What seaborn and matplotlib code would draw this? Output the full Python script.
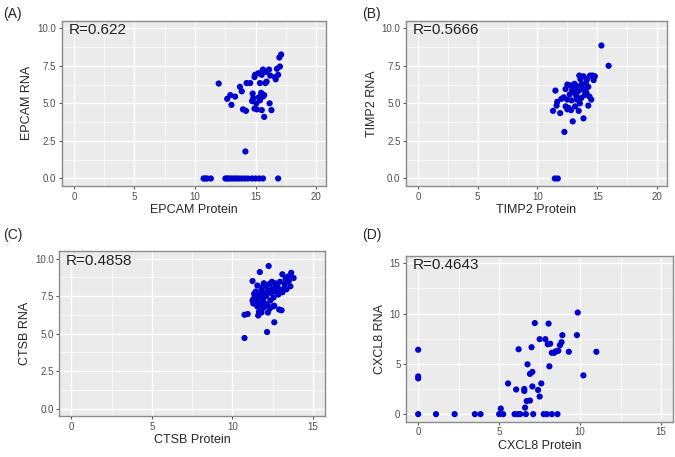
import numpy as np
import pandas as pd
import matplotlib
matplotlib.use('Agg')
import matplotlib.pyplot as plt
import seaborn as sns

# (A) EPCAM
epcam_protein = [11.95, 12.65, 12.9, 13.3, 13.0, 13.7, 13.85, 13.95, 14.2, 14.25, 14.55, 14.15,
                 14.7, 14.75, 14.8, 14.9, 15.1, 14.95, 15.2, 15.5, 15.6, 15.85, 16.1, 16.2,
                 15.35, 15.9, 15.45, 15.6, 15.05, 15.35, 15.7, 16.15, 16.3, 15.7, 15.5, 16.65,
                 16.85, 16.75, 17.0, 16.6, 16.95, 17.1, 15.8, 15.55, 14.9, 15.25,
                 10.7, 10.85, 11.0, 11.3, 12.5, 12.65, 12.8, 13.0, 13.2, 13.4, 13.6, 13.85,
                 14.1, 14.35, 14.7, 15.0, 15.3, 15.6, 16.85]
epcam_rna = [6.32, 5.3, 5.55, 5.45, 4.9, 6.1, 5.8, 4.6, 4.5, 6.35, 6.35, 1.8,
             5.15, 5.65, 5.35, 4.65, 4.6, 6.9, 7.0, 6.9, 7.25, 7.1, 7.25, 6.85,
             6.35, 6.45, 5.7, 5.45, 5.0, 5.2, 5.55, 5.0, 4.55, 4.1, 4.55, 6.6,
             6.9, 7.3, 7.45, 6.75, 8.05, 8.25, 6.35, 7.15, 6.75, 5.4,
             0, 0, 0, 0, 0, 0, 0, 0, 0, 0, 0, 0,
             0, 0, 0, 0, 0, 0, 0]

# (B) TIMP2
timp2_protein = [15.35, 15.95, 11.45, 11.7, 12.25, 12.95, 13.85, 11.3, 11.5, 11.65, 11.6, 11.9,
                 12.0, 12.2, 12.35, 12.5, 12.6, 12.5, 12.7, 12.5, 12.75, 12.9, 13.0, 13.15,
                 13.3, 13.4, 13.3, 13.15, 13.45, 13.55, 13.5, 13.6, 13.7, 13.85, 13.95, 14.05,
                 14.15, 14.25, 14.35, 14.5, 14.25, 14.6, 14.8, 14.7, 14.4, 13.85, 12.8, 13.1,
                 13.65, 14.0, 12.35, 13.25, 13.75, 14.1, 12.85]
timp2_rna = [8.85, 7.5, 0.0, 0.0, 3.1, 3.8, 4.0, 4.5, 5.85, 5.1, 4.85, 4.35,
             5.3, 5.4, 4.8, 4.6, 4.7, 5.25, 5.6, 6.25, 6.2, 5.9, 6.05, 5.7,
             6.15, 5.8, 5.25, 4.8, 4.5, 5.0, 6.85, 6.6, 6.25, 5.9, 5.55, 6.35,
             6.6, 6.1, 5.45, 5.25, 4.85, 6.85, 6.8, 6.55, 6.85, 6.8, 4.55, 6.3,
             5.35, 5.9, 5.95, 5.5, 6.0, 5.7, 5.2]

# (C) CTSB
ctsb_protein = [10.75, 10.75, 10.95, 12.15, 12.6, 12.25, 11.7, 13.1, 13.65, 13.8, 11.25, 13.3,
                13.6, 11.55, 12.45, 13.2, 11.35, 11.25, 11.45, 12.9, 12.3, 11.6, 11.65, 13.05,
                11.3, 11.4, 11.5, 11.6, 11.7, 11.75, 11.8, 11.85, 11.9, 12.0, 12.0, 12.05,
                12.1, 12.15, 12.2, 12.3, 12.35, 12.4, 12.5, 12.55, 12.6, 12.65, 12.7, 12.8,
                12.85, 12.95, 13.0, 13.1, 13.25, 13.35, 13.45, 13.5, 11.55, 11.3, 11.8, 12.2,
                11.95, 11.45, 11.9, 12.5]
ctsb_rna = [4.7, 6.25, 6.3, 5.1, 5.75, 9.5, 9.1, 8.95, 9.05, 8.7, 8.5, 8.65,
            8.15, 8.2, 8.45, 8.0, 7.65, 7.2, 7.0, 6.6, 6.65, 6.2, 6.45, 6.55,
            7.3, 7.5, 7.2, 7.4, 7.0, 7.6, 7.9, 8.1, 7.3, 7.0, 7.7, 8.2,
            7.5, 6.9, 7.9, 8.3, 7.2, 7.7, 8.0, 7.4, 6.85, 8.35, 7.8, 8.1,
            7.6, 8.45, 7.9, 7.75, 8.3, 7.95, 8.8, 8.5, 6.8, 7.0, 6.4, 6.4,
            8.35, 7.8, 6.7, 6.8]

# (D) CXCL8
cxcl8_protein = [0, 1.1, 2.25, 3.5, 3.85, 5.0, 5.25, 5.1, 0, 0, 0, 5.55,
                 6.05, 6.2, 6.55, 6.55, 6.6, 6.7, 6.9, 6.75, 6.9, 7.05, 7.05, 7.0,
                 7.2, 7.4, 7.5, 7.6, 7.5, 7.85, 8.05, 8.0, 8.15, 8.1, 8.25, 8.4,
                 8.5, 8.65, 8.75, 8.9, 8.85, 9.3, 9.8, 9.85, 10.2, 11.0,
                 5.95, 6.15, 6.3, 6.65, 7.1, 7.75, 7.95, 8.25, 8.6]
cxcl8_rna = [0, 0, 0, 0, 0, 0, 0, 0.55, 6.4, 3.75, 3.55, 3.05,
             2.45, 6.45, 2.5, 2.3, 0.65, 1.3, 1.35, 4.95, 4.0, 4.2, 2.75, 6.65,
             9.05, 2.4, 1.75, 3.05, 7.45, 7.45, 9.0, 6.95, 7.0, 4.75, 6.1, 6.1,
             6.25, 6.3, 6.85, 7.85, 7.15, 6.2, 7.85, 10.1, 3.85, 6.2,
             0, 0, 0, 0, 0, 0, 0, 0, 0]

panels = [
    ('(A)', 'EPCAM', epcam_protein, epcam_rna, 'R=0.622'),
    ('(B)', 'TIMP2', timp2_protein, timp2_rna, 'R=0.5666'),
    ('(C)', 'CTSB', ctsb_protein, ctsb_rna, 'R=0.4858'),
    ('(D)', 'CXCL8', cxcl8_protein, cxcl8_rna, 'R=0.4643'),
]

sns.set_style('darkgrid', {'axes.facecolor': '#EBEBEB', 'grid.color': 'white',
                           'axes.edgecolor': '#8C8C8C'})
plt.rcParams['font.family'] = ['Liberation Sans', 'DejaVu Sans']

fig = plt.figure(figsize=(6.75, 4.57), dpi=100)

# axes rectangles [left, bottom, width, height]
rects = [[0.0914, 0.593, 0.3916, 0.3617],
         [0.6015, 0.593, 0.386, 0.3617],
         [0.0879, 0.0897, 0.3936, 0.361],
         [0.6015, 0.0773, 0.396, 0.3632]]
label_pos = [(0.004, 0.985), (0.536, 0.985), (0.004, 0.50), (0.536, 0.50)]

for i, (tag, gene, prot, rna, rtxt) in enumerate(panels):
    ax = fig.add_axes(rects[i])
    df = pd.DataFrame({'protein': prot, 'rna': rna})
    sns.scatterplot(data=df, x='protein', y='rna', ax=ax, color='#0000CD',
                    s=20, edgecolor='none', linewidth=0)
    if i < 2:
        ax.set_xlim(-1.0, 20.8)
        ax.set_xticks([0, 5, 10, 15, 20])
        ax.set_xticks([2.5, 7.5, 12.5, 17.5], minor=True)
    else:
        ax.set_xlim(-0.75, 15.75)
        ax.set_xticks([0, 5, 10, 15])
        ax.set_xticks([2.5, 7.5, 12.5], minor=True)
    if i < 3:
        ax.set_ylim(-0.5, 10.5)
        ax.set_yticks([0, 2.5, 5, 7.5, 10])
        ax.set_yticks([1.25, 3.75, 6.25, 8.75], minor=True)
    else:
        ax.set_ylim(-0.75, 15.75)
        ax.set_yticks([0, 5, 10, 15])
        ax.set_yticks([2.5, 7.5, 12.5], minor=True)
    ax.grid(which='major', color='white', linewidth=1.0)
    ax.grid(which='minor', color='white', linewidth=0.5)
    ax.tick_params(which='major', length=2.5, width=0.8, color='#555555',
                   labelsize=7, labelcolor='#4D4D4D', pad=1.5, bottom=True, left=True)
    ax.tick_params(which='minor', length=0)
    for sp in ax.spines.values():
        sp.set_visible(True)
        sp.set_linewidth(1.0)
        sp.set_color('#8C8C8C')
    ax.set_xlabel(f'{gene} Protein', fontsize=9, labelpad=2)
    ax.set_ylabel(f'{gene} RNA', fontsize=9, labelpad=3)
    ax.text(0.025, 0.985, rtxt, transform=ax.transAxes, ha='left', va='top',
            fontsize=11, color='#222222')
    fig.text(label_pos[i][0], label_pos[i][1], tag, ha='left', va='top', fontsize=10)

fig.savefig('out.png', dpi=100)
